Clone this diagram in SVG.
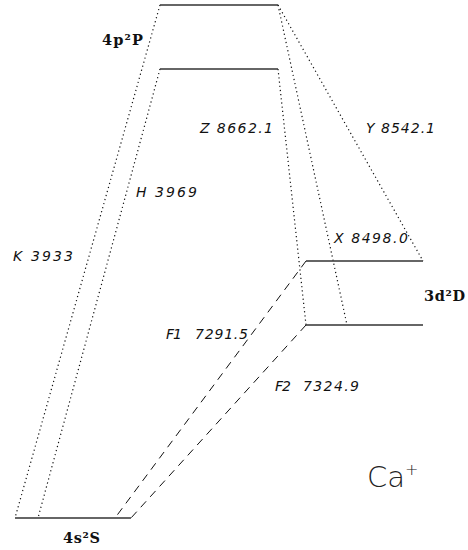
<svg xmlns="http://www.w3.org/2000/svg" width="468" height="550" viewBox="0 0 468 550">
<style>
.lvl{stroke:#333;stroke-width:1.3;fill:none}
.dot{stroke:#111;stroke-width:1.2;stroke-dasharray:1.2 3;fill:none}
.dash{stroke:#111;stroke-width:1;stroke-dasharray:8 6;fill:none}
.lab{font-family:"DejaVu Sans","Liberation Sans",sans-serif;font-style:italic;font-size:14px;fill:#111}
.st{font-family:"DejaVu Serif","Liberation Serif",serif;font-weight:bold;font-size:14.5px;fill:#111}
</style>
<rect width="468" height="550" fill="#fff"/>
<g id="connectors">
<line class="dot" x1="160" y1="5" x2="15" y2="518"/>
<line class="dot" x1="160" y1="69" x2="38" y2="518"/>
<line class="dot" x1="278" y1="69" x2="306" y2="325"/>
<line class="dot" x1="278" y1="5" x2="423" y2="261"/>
<line class="dot" x1="278" y1="5" x2="347" y2="325"/>
<line class="dash" x1="306" y1="261" x2="115" y2="518"/>
<line class="dash" x1="306" y1="325" x2="131" y2="518"/>
<text class="lab" x="200" y="133" textLength="73" lengthAdjust="spacing">Z 8662.1</text>
<text class="lab" x="366" y="133" textLength="69" lengthAdjust="spacing">Y 8542.1</text>
<text class="lab" x="136" y="197" textLength="61" lengthAdjust="spacing">H 3969</text>
<text class="lab" x="13" y="261" textLength="60" lengthAdjust="spacing">K 3933</text>
<text class="lab" x="334" y="243" textLength="74" lengthAdjust="spacing">X 8498.0</text>
<text class="lab" x="166" y="339" textLength="16" lengthAdjust="spacing">F1</text>
<text class="lab" x="195" y="339" textLength="53" lengthAdjust="spacing">7291.5</text>
<text class="lab" x="275" y="391" textLength="16" lengthAdjust="spacing">F2</text>
<text class="lab" x="303" y="391" textLength="56" lengthAdjust="spacing">7324.9</text>
</g>
<g id="P32"><line class="lvl" x1="160" y1="5" x2="278" y2="5"/></g>
<g id="P12"><line class="lvl" x1="160" y1="69" x2="278" y2="69"/>
<text class="st" x="102" y="45" textLength="41" lengthAdjust="spacing">4p²P</text></g>
<g id="D52"><line class="lvl" x1="306" y1="261" x2="423" y2="261"/></g>
<g id="D32"><line class="lvl" x1="306" y1="325" x2="423" y2="325"/>
<text class="st" x="424" y="301" textLength="41" lengthAdjust="spacing">3d²D</text></g>
<g id="S12"><line class="lvl" x1="15" y1="518" x2="131" y2="518"/>
<text class="st" x="63" y="543" textLength="37" lengthAdjust="spacing">4s²S</text></g>
<g id="ion"><text x="367" y="487" font-family="'DejaVu Sans','Liberation Sans',sans-serif" font-weight="300" font-size="29" fill="#222">Ca<tspan font-size="16" dy="-12">+</tspan></text></g>
</svg>
